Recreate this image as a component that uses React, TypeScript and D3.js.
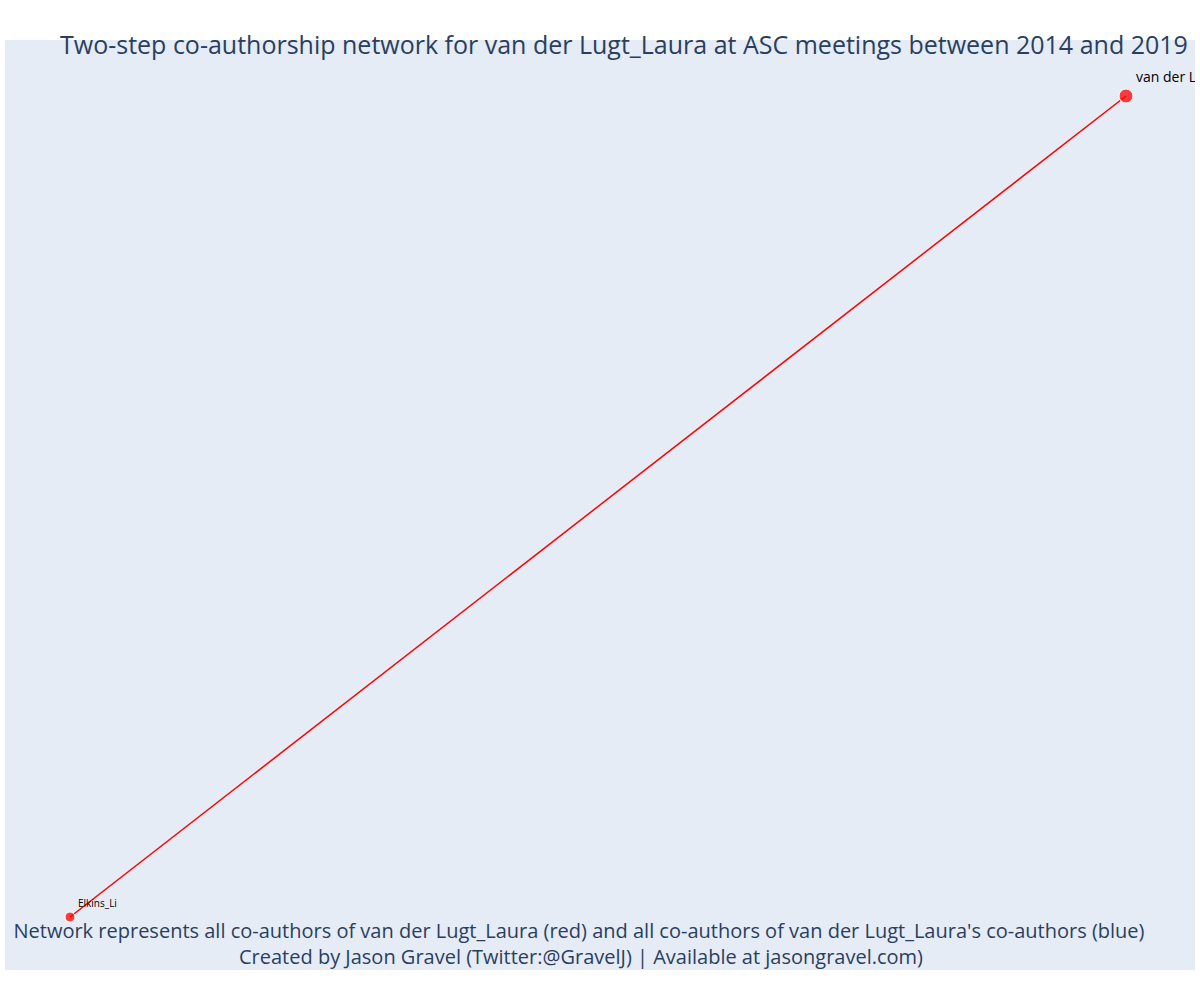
import * as d3 from 'd3'

const nodeNames = ['van der Lugt_Laura', 'Elkins_Li']
const nodeX = [1, 0]
const nodeY = [1, 0]
const nodeSize = [7, 5]
const edges: [number, number][] = [[0, 1]]

export default function App() {
  const width = 1200
  const height = 1000
  const plot = { left: 5, top: 40, right: 1195, bottom: 970 }
  const x = d3.scaleLinear().domain([0, 1]).range([70, 1126])
  const y = d3.scaleLinear().domain([0, 1]).range([917, 96])
  const font = '"Open Sans", sans-serif'

  return (
    <div style={{ position: 'absolute', left: 0, top: 0 }}>
      <svg width={width} height={height} style={{ display: 'block', fontFamily: font }}>
        <defs>
          <clipPath id="plotclip">
            <rect x={plot.left} y={plot.top} width={plot.right - plot.left} height={plot.bottom - plot.top} />
          </clipPath>
        </defs>
        <rect width={width} height={height} fill="#fff" />
        <rect x={plot.left} y={plot.top} width={plot.right - plot.left} height={plot.bottom - plot.top} fill="#e5ecf6" />
        <g clipPath="url(#plotclip)">
          {edges.map(([a, b]) => (
            <line key={`${a}-${b}`} x1={x(nodeX[a])} y1={y(nodeY[a])} x2={x(nodeX[b])} y2={y(nodeY[b])} stroke="#ff0000" strokeWidth={1.5} />
          ))}
          {nodeNames.map((name, i) => (
            <g key={name}>
              <circle cx={x(nodeX[i])} cy={y(nodeY[i])} r={nodeSize[i]} fill="#ff0000" fillOpacity={0.75} stroke="#fff" strokeWidth={1} />
              <text x={x(nodeX[i]) + (i === 0 ? 10 : 8)} y={y(nodeY[i]) - (i === 0 ? 14 : 10)} fontSize={i === 0 ? 14 : 10} fill="#000">{name}</text>
            </g>
          ))}
        </g>
        <text x={60} y={54} fontSize={25} fill="#2a3f5f">
          Two-step co-authorship network for van der Lugt_Laura at ASC meetings between 2014 and 2019
        </text>
        <text x={579} y={938} textAnchor="middle" fontSize={20} fill="#2a3f5f">
          Network represents all co-authors of van der Lugt_Laura (red) and all co-authors of van der Lugt_Laura's co-authors (blue)
        </text>
        <text x={581} y={964} textAnchor="middle" fontSize={20} fill="#2a3f5f">
          Created by Jason Gravel (Twitter:@GravelJ) | Available at jasongravel.com)
        </text>
      </svg>
    </div>
  )
}
